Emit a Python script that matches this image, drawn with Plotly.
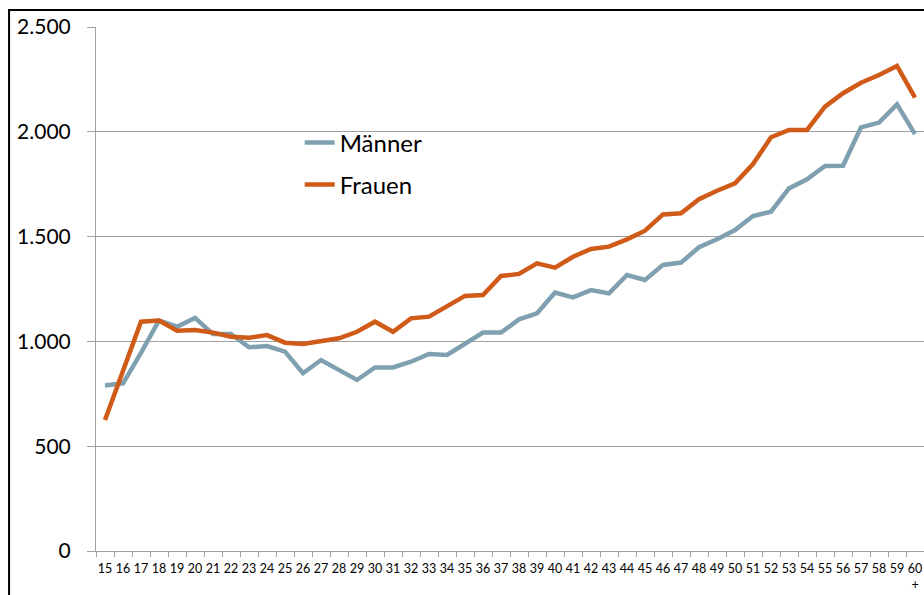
import plotly.graph_objects as go

ages = ["15", "16", "17", "18", "19", "20", "21", "22", "23", "24", "25", "26",
        "27", "28", "29", "30", "31", "32", "33", "34", "35", "36", "37", "38",
        "39", "40", "41", "42", "43", "44", "45", "46", "47", "48", "49", "50",
        "51", "52", "53", "54", "55", "56", "57", "58", "59", "60<br>+"]

maenner = [790, 800, 945, 1100, 1070, 1112, 1035, 1035, 972, 978, 951, 848,
           911, 864, 816, 876, 876, 903, 940, 935, 988, 1042, 1042, 1105,
           1134, 1233, 1210, 1245, 1229, 1317, 1293, 1365, 1376, 1449, 1487, 1531,
           1598, 1619, 1730, 1773, 1837, 1838, 2021, 2044, 2131, 1989]

frauen = [625, 860, 1094, 1100, 1051, 1054, 1042, 1022, 1018, 1030, 994, 988,
          1003, 1015, 1046, 1094, 1046, 1110, 1118, 1169, 1217, 1221, 1312, 1322,
          1372, 1352, 1404, 1441, 1452, 1487, 1528, 1606, 1611, 1678, 1719, 1754,
          1846, 1974, 2009, 2009, 2120, 2184, 2234, 2271, 2314, 2163]

y_ticks = [0, 500, 1000, 1500, 2000, 2500]

fig = go.Figure()
fig.add_trace(go.Scatter(x=ages, y=maenner, name="Männer", mode="lines",
                         line=dict(color="#7fa0b0", width=4.5),
                         legend="legend", showlegend=True))
fig.add_trace(go.Scatter(x=ages, y=frauen, name="Frauen", mode="lines",
                         line=dict(color="#d05a18", width=4.5),
                         legend="legend2", showlegend=True))

legend_style = dict(font=dict(family="Lato, sans-serif", size=24, color="#000000"),
                    bgcolor="rgba(0,0,0,0)", xanchor="left", yanchor="middle",
                    itemwidth=30)

fig.update_layout(
    width=924, height=595,
    margin=dict(l=96, r=0, t=27, b=44),
    paper_bgcolor="white", plot_bgcolor="white",
    separators=",.",
    showlegend=True,
    font=dict(family="Lato, sans-serif", color="#000000"),
    legend=dict(x=0.246, y=0.7786, **legend_style),
    legend2=dict(x=0.246, y=0.6985, **legend_style),
    xaxis=dict(type="category", range=[-0.5, 45.5], showgrid=False,
               showline=True, linecolor="#a0a0a0", linewidth=1,
               ticks="outside", tickson="boundaries", ticklen=5, tickcolor="#a0a0a0",
               ticklabelstandoff=6,
               tickfont=dict(size=12.5, family="Lato, sans-serif"), tickangle=0),
    yaxis=dict(range=[0, 2500], tickvals=y_ticks, tickformat=",d",
               showgrid=True, gridcolor="#a0a0a0", gridwidth=1,
               showline=True, linecolor="#a0a0a0", linewidth=1,
               ticks="outside", ticklen=8, tickcolor="#a0a0a0",
               ticklabelstandoff=12,
               tickfont=dict(size=21, family="Lato, sans-serif"), zeroline=False),
    shapes=[dict(type="rect", xref="paper", yref="paper",
                 x0=-0.105, x1=1.2, y0=-0.5, y1=1.0324,
                 line=dict(color="black", width=2), fillcolor="rgba(0,0,0,0)",
                 layer="above")],
)

fig.write_html("out.html", config={"displayModeBar": False},
               post_script="document.body.style.margin='0';document.body.style.overflow='hidden';")
